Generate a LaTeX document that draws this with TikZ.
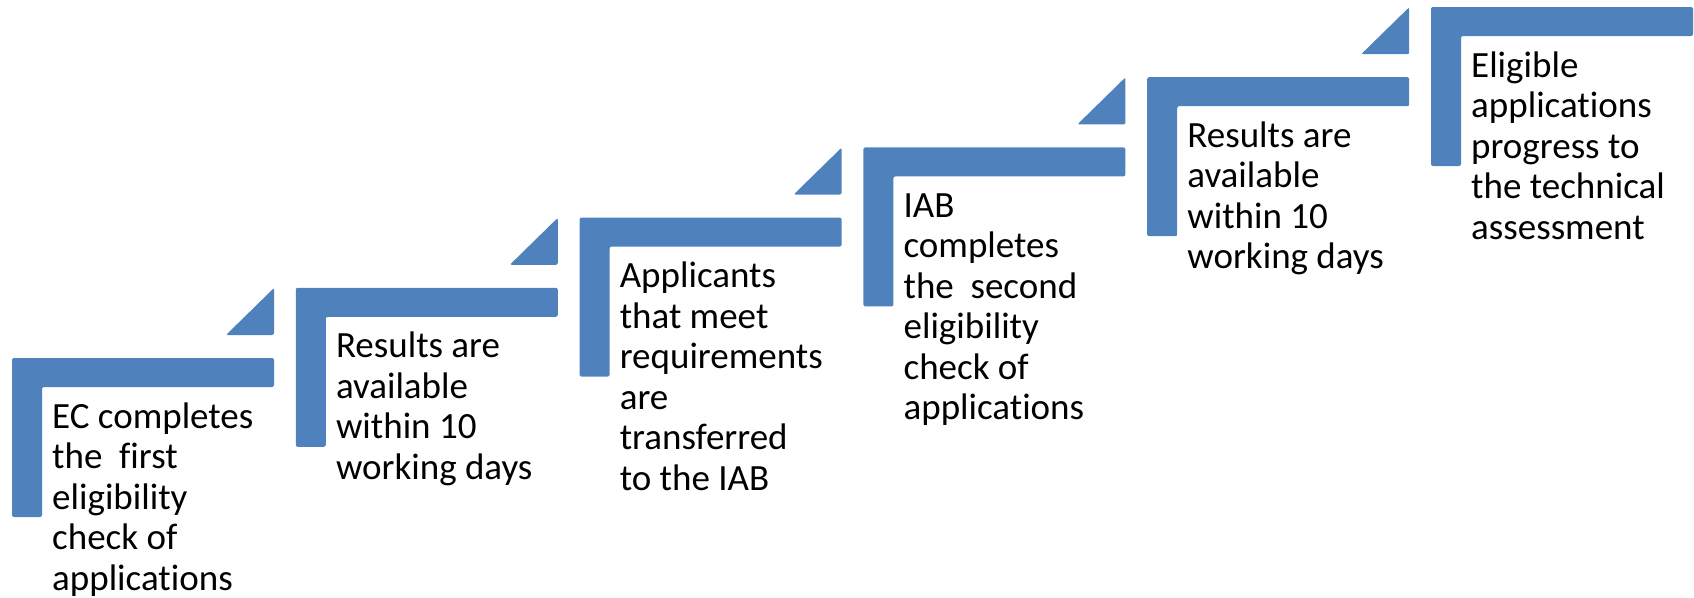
\documentclass[tikz,border=0pt]{standalone}
\usepackage{fontspec}
\setmainfont[Ligatures=NoCommon]{Carlito}
\usetikzlibrary{calc}
\definecolor{stepblue}{HTML}{4F81BD}
% stacked caption lines, the box baseline being the first line's baseline
\newcommand\linestack[1]{\vtop{\baselineskip=40.5pt\lineskiplimit=-100pt\halign{##\hfil\cr#1\crcr}}}
\tikzset{
  stair/.style={fill=stepblue, rounded corners=2pt},
  caption/.style={anchor=base west, inner sep=0pt, font=\fontsize{37}{40.5}\selectfont}
}
\begin{document}
\begin{tikzpicture}[x=1pt,y=-1pt]
\useasboundingbox (0,0) rectangle (1694,597);
% L-shaped steps
\foreach \i in {0,...,5} {
  \coordinate (s\i) at (12+283.8*\i, 358-70.2*\i);
  \fill[stair] (s\i) -- ++(262,0) -- ++(0,29) -- ++(-232,0) -- ++(0,130) -- ++(-30,0) -- cycle;
}
% small triangles above the step ends
\foreach \i in {0,...,4} {
  \fill[stair] ($(s\i)+(214,-23)$) -- ++(48,0) -- ++(0,-47) -- cycle;
}
% captions
\node[caption] (t0) at ($(s0)+(40,70)$) {\linestack{EC completes\cr the~ first\cr eligibility\cr check of\cr applications}};
\node[caption] (t1) at ($(s1)+(40,70)$) {\linestack{Results are\cr available\cr within 10\cr working days}};
\node[caption] (t2) at ($(s2)+(40,70)$) {\linestack{Applicants\cr that meet\cr requirements\cr are\cr transferred\cr to the IAB}};
\node[caption] (t3) at ($(s3)+(40,70)$) {\linestack{IAB\cr completes\cr the~ second\cr eligibility\cr check of\cr applications}};
\node[caption] (t4) at ($(s4)+(40,70)$) {\linestack{Results are\cr available\cr within 10\cr working days}};
\node[caption] (t5) at ($(s5)+(40,70)$) {\linestack{Eligible\cr applications\cr progress to\cr the technical\cr assessment}};
\end{tikzpicture}
\end{document}
